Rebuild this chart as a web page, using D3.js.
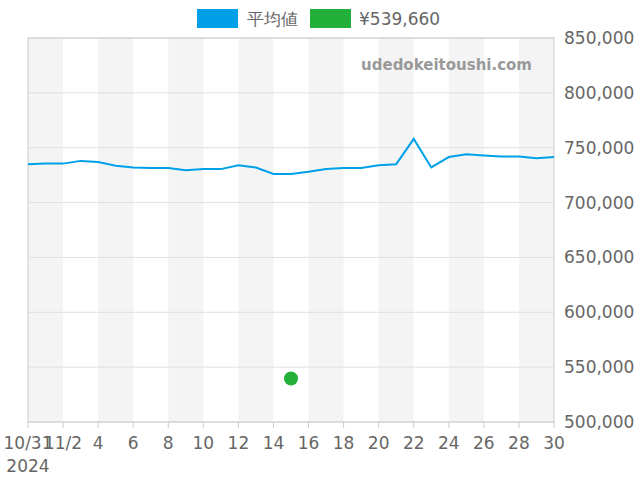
<!DOCTYPE html>
<html><head><meta charset="utf-8">
<script src="https://cdn.jsdelivr.net/npm/d3@7"></script>
<style>body{margin:0;background:#fff}text{font-family:"DejaVu Sans",sans-serif}</style>
</head><body><svg id="c" width="640" height="480"></svg>
<script>
const days = d3.range(0,31);
const avgValues = [735000,735500,735500,738000,737000,733500,732000,731500,731500,729500,730500,730500,734000,732000,726000,726000,728000,730500,731500,731500,734000,735000,758000,732000,741500,744000,743000,742000,742000,740500,741500];
const pointDay = 15, pointValue = 539660;
const xTickLabels = ["10/31","11/2","4","6","8","10","12","14","16","18","20","22","24","26","28","30"];
const yTicks = [500000,550000,600000,650000,700000,750000,800000,850000];

const svg = d3.select("#c");
const L=28,R=554,T=38,B=422;
const x = d3.scaleLinear().domain([0,30]).range([L,R]);
const y = d3.scaleLinear().domain([500000,850000]).range([B,T]);

for(let i=0;i<30;i+=4){
  svg.append("rect").attr("x",x(i)).attr("y",T).attr("width",x(i+2)-x(i)).attr("height",B-T).attr("fill","#f4f4f4");
}
yTicks.forEach(v=>{
  svg.append("line").attr("x1",L).attr("x2",R).attr("y1",y(v)).attr("y2",y(v)).attr("stroke","#e0e0e0");
  svg.append("text").attr("x",564).attr("y",y(v)+6).attr("font-size",17).attr("fill","#666").text(d3.format(",")(v));
});
svg.append("rect").attr("x",L).attr("y",T).attr("width",R-L).attr("height",B-T).attr("fill","none").attr("stroke","#ccc");
xTickLabels.forEach((t,i)=>{
  const d=i*2;
  svg.append("line").attr("x1",x(d)).attr("x2",x(d)).attr("y1",B).attr("y2",B+6).attr("stroke","#ccc");
  svg.append("text").attr("x",x(d)).attr("y",449).attr("text-anchor","middle").attr("font-size",17).attr("fill","#666").text(t);
});
svg.append("text").attr("x",28).attr("y",472).attr("text-anchor","middle").attr("font-size",17).attr("fill","#666").text("2024");
svg.append("text").attr("x",532).attr("y",70).attr("text-anchor","end").attr("font-size",15).attr("font-weight","bold").attr("fill","#999").text("udedokeitoushi.com");
svg.append("path").datum(avgValues).attr("fill","none").attr("stroke","#00a0e9").attr("stroke-width",2)
  .attr("d",d3.line().x((d,i)=>x(days[i])).y(d=>y(d)));
svg.append("circle").attr("cx",x(pointDay)).attr("cy",y(pointValue)).attr("r",7).attr("fill","#22b03a");
svg.append("rect").attr("x",197).attr("y",9).attr("width",41).attr("height",19).attr("fill","#00a0e9");
svg.append("text").attr("x",247).attr("y",25).attr("font-size",17).attr("fill","#666").text("平均値");
svg.append("rect").attr("x",310).attr("y",9).attr("width",41).attr("height",19).attr("fill","#22b03a");
svg.append("text").attr("x",359).attr("y",25).attr("font-size",17).attr("fill","#666").text("¥539,660");
</script></body></html>
